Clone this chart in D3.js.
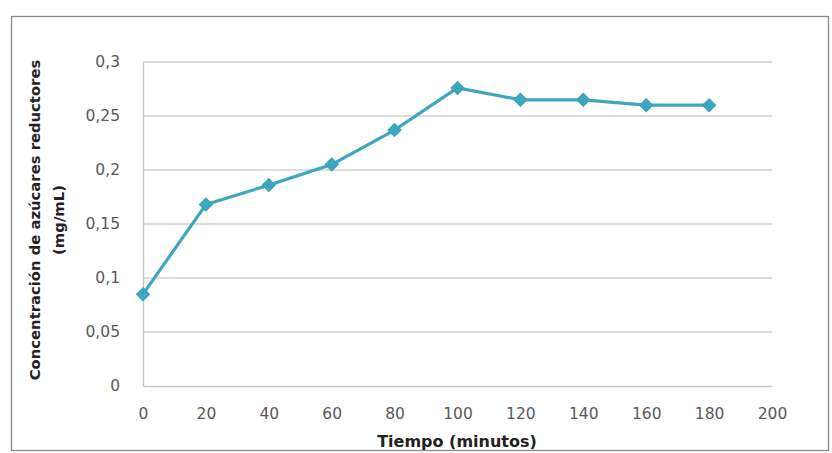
<!DOCTYPE html>
<html>
<head>
<meta charset="utf-8">
<script src="https://cdn.jsdelivr.net/npm/d3@7"></script>
<style>
  html, body { margin: 0; padding: 0; background: #fff; }
  svg { display: block; }
</style>
</head>
<body>
<svg id="chart" width="832" height="453"></svg>
<script>
// Reducing sugar concentration over time
const tiempo = [0, 20, 40, 60, 80, 100, 120, 140, 160, 180];
const concentracion = [0.085, 0.168, 0.186, 0.205, 0.237, 0.276, 0.265, 0.265, 0.26, 0.26];
const xTicks = [0, 20, 40, 60, 80, 100, 120, 140, 160, 180, 200];
const yTicks = [0, 0.05, 0.1, 0.15, 0.2, 0.25, 0.3];
const xTitle = "Tiempo (minutos)";
const yTitleLines = ["Concentración de azúcares reductores", "(mg/mL)"];

const svg = d3.select("#chart");
const plot = { left: 143, right: 772, top: 62, bottom: 386 };
const font = "'DejaVu Sans', sans-serif";
const lineColor = "#3FA7BD";

// outer frame
svg.append("rect")
  .attr("x", 11.5).attr("y", 16.5)
  .attr("width", 817).attr("height", 434)
  .attr("fill", "#fff")
  .attr("stroke", "#8a8a8a").attr("stroke-width", 1.3);

const x = d3.scaleLinear().domain([0, 200]).range([plot.left, plot.right]);
const y = d3.scaleLinear().domain([0, 0.3]).range([plot.bottom, plot.top]);

const fmt = v => String(+v.toFixed(2)).replace(".", ",");

// horizontal gridlines
svg.append("g")
  .selectAll("line")
  .data(yTicks.filter(d => d > 0))
  .join("line")
  .attr("x1", plot.left).attr("x2", plot.right)
  .attr("y1", d => y(d)).attr("y2", d => y(d))
  .attr("stroke", "#d0d0d0").attr("stroke-width", 1.5);

// y axis
const yAxis = svg.append("g")
  .attr("transform", `translate(${plot.left},0)`)
  .call(d3.axisLeft(y).tickValues(yTicks).tickSize(0).tickPadding(23).tickFormat(fmt));
yAxis.select(".domain").attr("stroke", "#c8c8c8").attr("stroke-width", 1.5);
yAxis.selectAll("text")
  .attr("font-family", font).attr("font-size", 15.5).attr("fill", "#595959");

// x axis
const xAxis = svg.append("g")
  .attr("transform", `translate(0,${plot.bottom})`)
  .call(d3.axisBottom(x).tickValues(xTicks).tickSize(0).tickPadding(22).tickFormat(d3.format("d")));
xAxis.select(".domain").attr("stroke", "#c8c8c8").attr("stroke-width", 1.5);
xAxis.selectAll("text")
  .attr("font-family", font).attr("font-size", 15.5).attr("fill", "#595959");

// axis titles
svg.append("text")
  .attr("x", 457).attr("y", 447)
  .attr("text-anchor", "middle")
  .attr("font-family", font).attr("font-weight", "bold").attr("font-size", 16)
  .attr("fill", "#222")
  .text(xTitle);

const yt = svg.append("text")
  .attr("transform", "translate(40,220) rotate(-90)")
  .attr("text-anchor", "middle")
  .attr("font-family", font).attr("font-weight", "bold").attr("font-size", 14.8)
  .attr("fill", "#222");
yt.selectAll("tspan")
  .data(yTitleLines)
  .join("tspan")
  .attr("x", 0)
  .attr("dy", (d, i) => i === 0 ? 0 : 24)
  .text(d => d);

// data line
const data = tiempo.map((t, i) => ({ t, v: concentracion[i] }));
svg.append("path")
  .datum(data)
  .attr("fill", "none")
  .attr("stroke", lineColor)
  .attr("stroke-width", 3.2)
  .attr("stroke-linejoin", "round")
  .attr("d", d3.line().x(d => x(d.t)).y(d => y(d.v)));

// diamond markers (squares turned 45°)
svg.append("g")
  .selectAll("path")
  .data(data)
  .join("path")
  .attr("transform", d => `translate(${x(d.t)},${y(d.v)}) rotate(45)`)
  .attr("d", d3.symbol().type(d3.symbolSquare).size(85))
  .attr("fill", lineColor)
  .attr("stroke", "#3a9fb4").attr("stroke-width", 1);
</script>
</body>
</html>
